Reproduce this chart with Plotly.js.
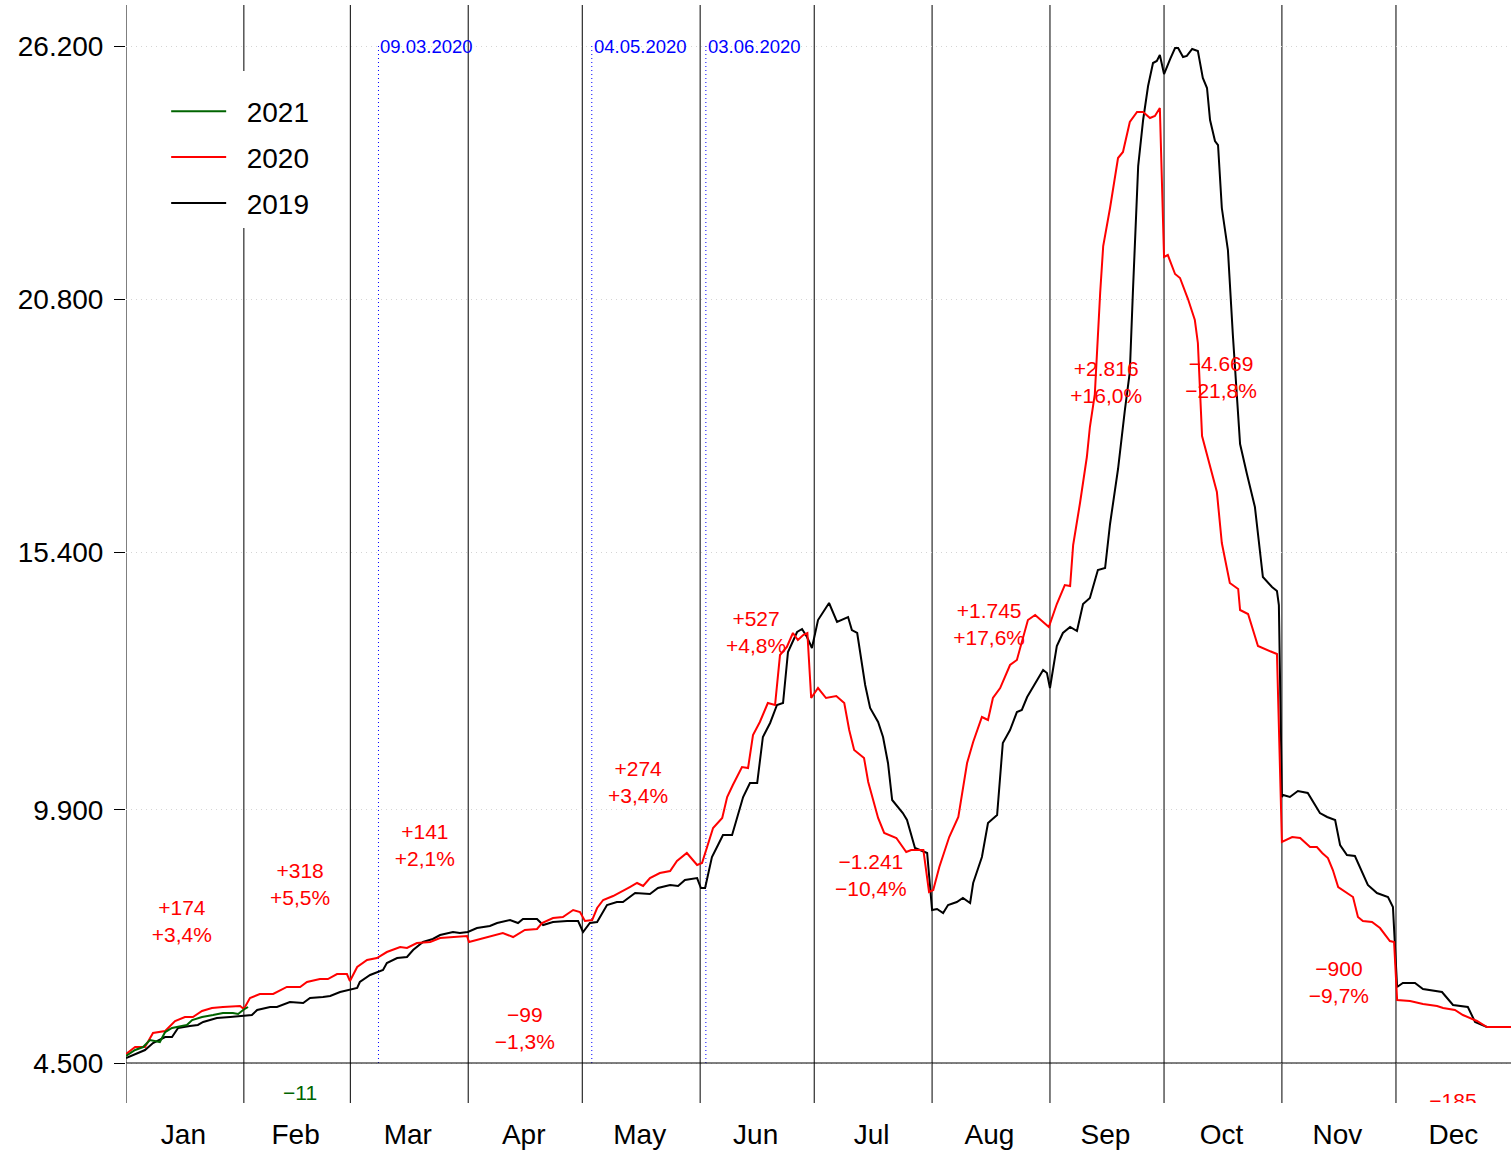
<!DOCTYPE html>
<html>
<head>
<meta charset="utf-8">
<script src="https://cdn.plot.ly/plotly-3.0.1.min.js"></script>
<style>html,body{margin:0;padding:0;background:#fff;}#chart{width:1511px;height:1152px;}</style>
</head>
<body>
<div id="chart"></div>
<script>
// ---- data (x = day of year, y = value) ----
const months = ["Jan","Feb","Mar","Apr","May","Jun","Jul","Aug","Sep","Oct","Nov","Dec"];
const monthStarts = [1,32,60,91,121,152,182,213,244,274,305,335];
const yTicks = [4500, 9900, 15400, 20800, 26200];
const yTickText = ["4.500","9.900","15.400","20.800","26.200"];

const days2019 = [1,6,8.1,11.3,13.1,14.7,17.8,19.9,21.3,24.9,28.4,31.8,34.1,35.5,38.9,40.7,44.1,47.6,49.4,52.8,54.7,57.3,61.8,62.5,65.2,68.6,69.6,72.3,74.9,76.5,79.1,81.7,83.6,87,88.8,90.9,93.3,96.7,98.6,102,104.1,105.4,109.1,110.7,113.3,117,119.9,121.2,123,124.9,127.5,130.1,131.7,134.9,138.8,140.9,144.1,146.2,148,151.2,152.2,153.3,155.1,156.7,158,160.4,163.3,165.1,167,168.5,170.4,172.2,173.8,175.1,177.5,178.8,180.1,181.4,183,185.9,188,190.9,191.9,193.3,195.4,196.7,198.8,200.1,201.4,202.5,205.3,206.4,208.5,211.7,213,214.3,215.9,217.2,219.5,221.1,223,223.8,226.1,227.7,230.1,231.6,233.5,235.3,236.6,238,242.2,243.2,244,245.8,247.4,249.3,251.1,252.7,254.5,256.6,258.5,259.8,261.9,263.7,265,265.8,267.2,268.5,269.8,271.1,272.1,272.9,274,275.6,276.9,277.7,279,280,281.4,282.9,284.2,285.3,286.1,287.4,288.2,289.2,290.8,292.1,294,295.8,297.9,300,302.4,303.7,304.2,305,305.3,307.1,309.2,311.8,315,316.9,319,320.3,322.1,324.2,325.5,327.6,330,332.9,334.2,335.3,336.8,340,342.1,347.1,350,353.9,355.8,358.9,365.3];
const values2019 = [4607,4777,4927,5055,5055,5247,5289,5311,5375,5460,5482,5503,5524,5631,5695,5695,5802,5780,5887,5908,5930,6015,6100,6228,6378,6484,6634,6740,6762,6911,7082,7146,7231,7295,7274,7295,7380,7423,7487,7551,7487,7573,7573,7444,7509,7530,7530,7295,7487,7509,7871,7935,7935,8127,8106,8234,8298,8277,8405,8447,8234,8234,8895,9151,9365,9365,10176,10474,10474,11456,11755,12139,12181,13270,13696,13760,13590,13355,13952,14315,13910,14016,13739,13675,12565,12075,11776,11456,10901,10112,9834,9685,9087,8981,7765,7786,7701,7871,7935,8021,7914,8341,8895,9621,9792,11328,11605,11989,12032,12309,12885,12821,12501,13398,13675,13803,13718,14294,14422,15019,15062,16001,17174,18433,19244,20929,23639,24621,25346,25837,25880,26008,25602,25922,26157,26157,25965,25987,26136,26093,25517,25304,24621,24173,24087,22743,21847,20033,17708,17068,16363,14870,14656,14571,14272,10176,10218,10176,10304,10261,9834,9749,9685,9151,8938,8917,8682,8298,8127,8042,7829,6122,6207,6207,6079,6015,5738,5695,5375,5268,5268];

const days2020 = [1,3.4,6,8.1,11.3,13.9,16.5,18.6,21,23.6,26.5,29.1,31,32,33.6,36.2,39.7,43.3,46.8,48.6,52,54.1,56.5,59.1,59.9,61.8,64.4,67,69.6,73.1,74.9,77.5,81,83.6,87,90.7,91.2,94.1,96.7,100.1,102.8,105.9,109.1,110.4,113.3,115.9,118.6,120.4,121.7,123.6,124.9,126.5,129.1,130.9,133.5,135.4,137,138.8,141.4,144.1,145.9,148.5,151.2,152.5,153.8,155.4,157.8,159.1,160.6,163,164.6,165.9,167.7,169.8,171.7,173,174.8,176.4,177.7,179.1,180.2,181.2,183,185.1,187.8,189.9,191.2,192.5,195.1,196.2,198.8,200.4,203.6,206.2,207.5,210.7,212.2,213.3,214.9,217.5,219.9,222.2,223.8,226.1,227.7,229,230.9,233.5,235.3,238.2,240.1,242.2,243.7,245.8,247.9,249.3,250.1,251.9,253.7,254.5,255.8,257.2,258,259.8,261.9,263.2,265,266.9,268.5,270.3,271.6,272.9,274,275,276.9,278.2,280.3,282.1,282.9,284,286.1,287.9,289.2,291.3,293.5,294,296.1,298.7,302.4,303.7,305,307.7,309.8,312.4,314.2,315.6,317.1,318.4,319.8,323.7,325,326.3,328.7,330.8,333.4,334.5,335.3,338.7,342.1,345.8,347.4,350.5,352.6,354.4,356.3,358.9,365.3];
const values2020 = [4692,4841,4841,5140,5183,5396,5482,5482,5610,5674,5695,5716,5716,5652,5887,5972,5972,6122,6122,6228,6292,6292,6399,6399,6250,6548,6698,6740,6868,6975,6954,7060,7082,7167,7188,7210,7082,7146,7188,7274,7188,7338,7359,7487,7594,7615,7765,7722,7530,7551,7807,7978,8063,8149,8255,8341,8277,8447,8554,8597,8810,8981,8725,8767,9087,9514,9728,10176,10432,10816,10794,11499,11776,12181,12139,13205,13376,13675,13526,13632,13675,12288,12501,12288,12331,12181,11605,11178,11008,10496,9728,9408,9301,9002,9045,9045,8149,8191,8682,9322,9749,10901,11349,11883,11819,12288,12501,12992,13099,13952,14059,13910,13803,14294,14699,14678,15553,16449,17430,18070,18774,20929,21932,22743,23810,23938,24578,24791,24791,24663,24706,24877,21698,21740,21335,21250,20801,20353,19863,17878,17260,16683,15595,14742,14614,14166,14080,13398,13270,13227,9215,9322,9301,9109,9109,8981,8874,8618,8255,8042,7615,7530,7509,7380,7103,7082,5844,5823,5759,5716,5674,5631,5524,5460,5396,5268,5268];

const days2021 = [1,3.4,5.5,7.3,9.9,11.3,13.1,15.7,17,18.4,21,23.9,26.5,29.1,30.5,31.8,33.1];
const values2021 = [4649,4777,4841,4991,4948,5161,5247,5289,5311,5417,5482,5524,5567,5567,5546,5631,5695];

// monthly change labels (2020 vs 2019), one per month
const changeAbs = ["+174","+318","+141","\u221299","+274","+527","\u22121.241","+1.745","+2.816","\u22124.669","\u2212900","\u2212185"];
const changePct = ["+3,4%","+5,5%","+2,1%","\u22121,3%","+3,4%","+4,8%","\u221210,4%","+17,6%","+16,0%","\u221221,8%","\u22129,7%","\u22123,4%"];
const changeDay = [15.7,46.8,79.6,105.9,135.7,166.7,196.9,228,258.8,289,320,350];
const changeY = [7487,8266,9098,5193,10453,13643,8458,13814,18977,19095,6186,3369];
// 2021 vs 2020 label (February)
const change2021Abs = ["\u221211"];
const change2021Pct = ["\u22120,2%"];
const change2021Day = [46.8];
const change2021Y = [3529];

// event markers
const eventLabels = ["09.03.2020","04.05.2020","03.06.2020"];
const eventDays = [67.4,123.5,153.5];

// ---- derived ----
const monthEnds = monthStarts.slice(1).concat([366]);
const monthCenters = monthStarts.map((s,i)=> (s+monthEnds[i])/2 - 0.4);

const FONT = "Liberation Sans, Arial, sans-serif";
const PAD = "\u00a0\u00a0";

const traces = [
  {x: days2019, y: values2019, name: PAD+"2019", legendgroup: "g2019", legendrank: 3, mode: "lines", line: {color: "#000000", width: 2}, hoverinfo: "skip"},
  {x: days2020, y: values2020, name: PAD+"2020", legendgroup: "g2020", legendrank: 2, mode: "lines", line: {color: "#ff0000", width: 2}, hoverinfo: "skip"},
  {x: days2021, y: values2021, name: PAD+"2021", legendgroup: "g2021", legendrank: 1, mode: "lines", line: {color: "#006400", width: 2}, hoverinfo: "skip"},
  {x: changeDay, y: changeY, mode: "text", text: changeAbs.map((a,i)=>a+"<br>"+changePct[i]),
   textposition: "middle center", textfont: {family: FONT, size: 21, color: "#ff0000"},
   cliponaxis: true, showlegend: false, hoverinfo: "skip"},
  {x: change2021Day, y: change2021Y, mode: "text",
   text: change2021Abs.map((a,i)=>a+"<br>"+change2021Pct[i]),
   textposition: "middle center", textfont: {family: FONT, size: 21, color: "#006400"},
   cliponaxis: true, showlegend: false, hoverinfo: "skip"}
];

const shapes = [];
monthStarts.forEach(d => shapes.push({type: "line", xref: "x", yref: "paper", x0: d, x1: d, y0: 0, y1: 1,
  line: {color: "#000000", width: 1}, layer: "between"}));
eventDays.forEach(d => shapes.push({type: "line", xref: "x", yref: "y", x0: d, x1: d, y0: yTicks[0], y1: yTicks[yTicks.length-1],
  line: {color: "#0000ff", width: 1, dash: "1px,3px"}, layer: "between"}));
shapes.push({type: "line", xref: "paper", yref: "y", x0: 0, x1: 1, y0: yTicks[0], y1: yTicks[0],
  line: {color: "#000000", width: 1}, layer: "above"});

const annotations = eventLabels.map((t,i)=>({x: eventDays[i], y: yTicks[yTicks.length-1], xref: "x", yref: "y",
  text: t, showarrow: false, xanchor: "left", yanchor: "middle", font: {family: FONT, size: 18.5, color: "#0000ff"}}));

const layout = {
  width: 1511, height: 1152,
  margin: {l: 126, r: 0, t: 5, b: 49, pad: 0},
  paper_bgcolor: "#ffffff", plot_bgcolor: "#ffffff",
  font: {family: FONT, size: 28, color: "#000000"},
  showlegend: true,
  legend: {x: 0.029, y: 0.94, xanchor: "left", yanchor: "top", bgcolor: "#ffffff", borderwidth: 0,
    traceorder: "grouped", tracegroupgap: 6.5,
    title: {text: "\u00a0", font: {family: FONT, size: 12}},
    font: {family: FONT, size: 28, color: "#000000"}, itemwidth: 55},
  xaxis: {range: [1, 365.25], tickmode: "array", tickvals: monthCenters, ticktext: months,
    showgrid: false, zeroline: false, showline: false, ticks: "", tickfont: {family: FONT, size: 28}, ticklabelstandoff: 12},
  yaxis: {range: [3646.5, 27074.8], tickmode: "array", tickvals: yTicks, ticktext: yTickText,
    showgrid: true, gridcolor: "#d4d4d4", griddash: "1px,4px", gridwidth: 1, zeroline: false, showline: false,
    ticks: "outside", ticklen: 11, tickwidth: 1, tickcolor: "#000000", ticklabelstandoff: 5,
    tickfont: {family: FONT, size: 28}},
  shapes: shapes,
  annotations: annotations
};

Plotly.newPlot("chart", traces, layout, {displayModeBar: false, staticPlot: true});
</script>
</body>
</html>
